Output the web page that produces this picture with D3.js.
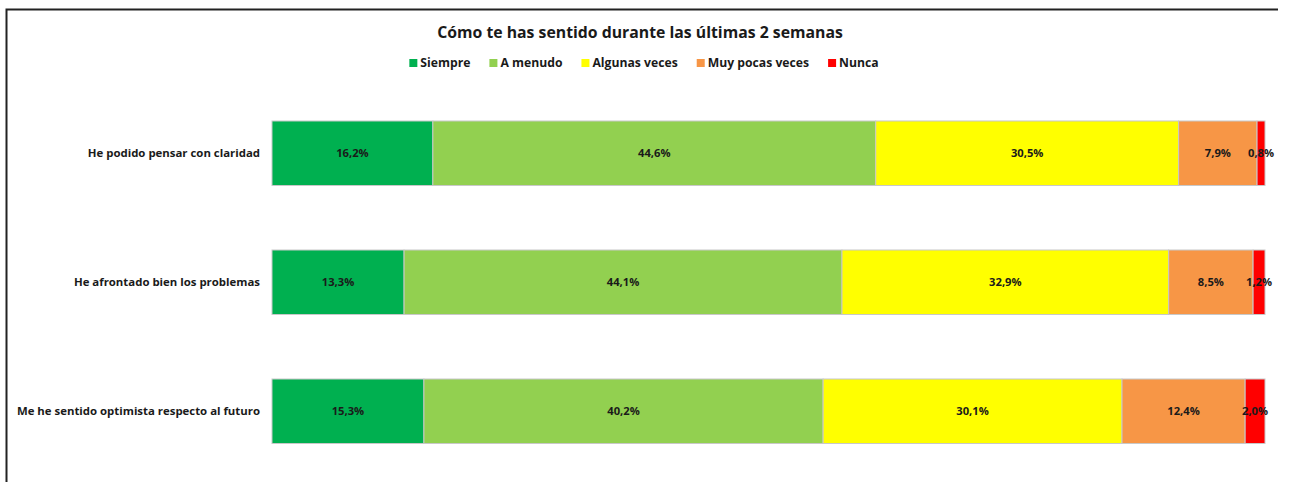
<!DOCTYPE html>
<html>
<head>
<meta charset="utf-8">
<script src="https://cdn.jsdelivr.net/npm/d3@7"></script>
<style>
  body { margin: 0; background: #fff; }
  svg text { font-family: "Open Sans", Lato, sans-serif; font-weight: bold; fill: #1a1a1a; }
</style>
</head>
<body>
<svg id="chart" width="1291" height="482"></svg>
<script>
// data
var questions = ["He podido pensar con claridad", "He afrontado bien los problemas", "Me he sentido optimista respecto al futuro"];
var answers = ["Siempre", "A menudo", "Algunas veces", "Muy pocas veces", "Nunca"];
var siempre = [16.2, 13.3, 15.3];
var aMenudo = [44.6, 44.1, 40.2];
var algunas = [30.5, 32.9, 30.1];
var muyPocas = [7.9, 8.5, 12.4];
var nunca = [0.8, 1.2, 2.0];
var colors = ["#00b050", "#92d050", "#ffff00", "#f79646", "#ff0000"];

var svg = d3.select("#chart");

// frame (top and left edges visible)
svg.append("path")
  .attr("d", "M6.5,482 V9.5 H1278")
  .attr("fill", "none")
  .attr("stroke", "#222")
  .attr("stroke-width", 2);

// title
svg.append("text")
  .attr("x", 640)
  .attr("y", 38)
  .attr("text-anchor", "middle")
  .style("font-size", "15.8px")
  .text("Cómo te has sentido durante las últimas 2 semanas");

// build rows for d3.stack
var table = questions.map(function(q, i) {
  return {
    question: q,
    "Siempre": siempre[i],
    "A menudo": aMenudo[i],
    "Algunas veces": algunas[i],
    "Muy pocas veces": muyPocas[i],
    "Nunca": nunca[i]
  };
});
var series = d3.stack().keys(answers)(table);

var xScale = d3.scaleLinear().domain([0, 100]).range([272, 1265]);
var yScale = d3.scaleBand()
  .domain(questions)
  .range([88.75, 475.75])
  .paddingInner(0.5)
  .paddingOuter(0.25);
var color = d3.scaleOrdinal().domain(answers).range(colors);

// category labels
var yAxis = d3.axisLeft(yScale).tickSize(0).tickPadding(12);
var gy = svg.append("g")
  .attr("transform", "translate(272,0)")
  .call(yAxis);
gy.select(".domain").remove();
gy.selectAll("text")
  .style("font-size", "11.4px")
  .style("font-family", "'Open Sans', Lato, sans-serif")
  .attr("fill", "#1a1a1a");

// bars
var groups = svg.selectAll(".serie")
  .data(series)
  .enter().append("g")
  .attr("class", "serie")
  .attr("fill", function(d) { return color(d.key); });

groups.selectAll("rect")
  .data(function(d) { return d; })
  .enter().append("rect")
  .attr("x", function(d) { return xScale(d[0]); })
  .attr("y", function(d) { return yScale(d.data.question); })
  .attr("width", function(d) { return xScale(d[1]) - xScale(d[0]); })
  .attr("height", yScale.bandwidth())
  .attr("stroke", "#c8c8c8")
  .attr("stroke-width", 1);

// value labels
groups.selectAll("text")
  .data(function(d) { return d; })
  .enter().append("text")
  .attr("x", function(d) { return (xScale(d[0]) + xScale(d[1])) / 2; })
  .attr("y", function(d) { return yScale(d.data.question) + yScale.bandwidth() / 2; })
  .attr("dy", "0.35em")
  .attr("text-anchor", "middle")
  .style("font-size", "11.2px")
  .text(function(d) { return (d[1] - d[0]).toFixed(1).replace(".", ",") + "%"; });

// legend
var legend = svg.append("g").attr("class", "legend");
var items = legend.selectAll("g")
  .data(answers)
  .enter().append("g");
items.append("rect")
  .attr("width", 8)
  .attr("height", 8)
  .attr("y", -4)
  .attr("fill", function(d) { return color(d); });
items.append("text")
  .attr("x", 11)
  .attr("dy", "0.35em")
  .style("font-size", "12.2px")
  .text(function(d) { return d; });

var pos = 0;
var offsets = [];
items.each(function(d) {
  offsets.push(pos);
  pos += 11 + d3.select(this).select("text").node().getComputedTextLength() + 19;
});
var total = pos - 19;
var start = 644 - total / 2;
items.attr("transform", function(d, i) { return "translate(" + (start + offsets[i]) + ",63)"; });
</script>
</body>
</html>
